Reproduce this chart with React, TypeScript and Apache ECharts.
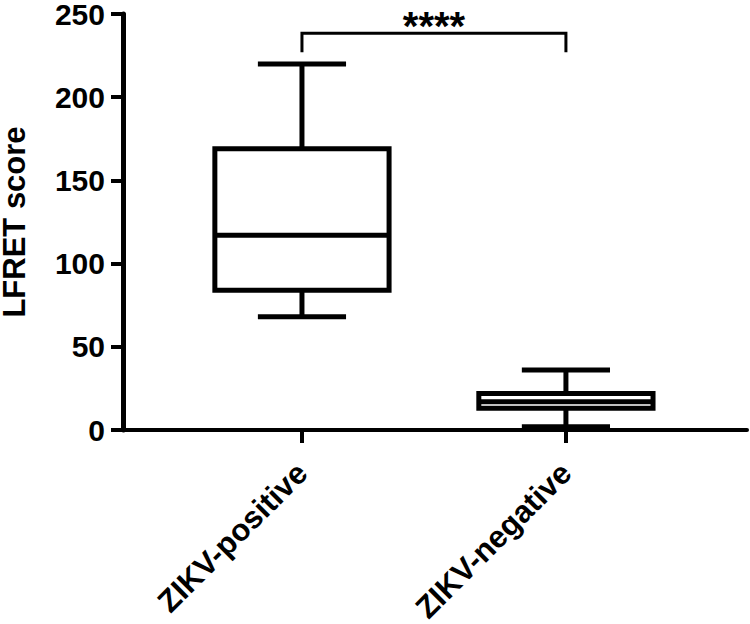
import React, { useEffect, useRef } from 'react';
import * as echarts from 'echarts';

const categories = ['ZIKV-positive', 'ZIKV-negative'];
const groupX = [1, 2];
const mins = [68, 2];
const q1s = [84, 13];
const medians = [117, 17];
const q3s = [169, 22];
const maxs = [220, 36];
const yTicks = [0, 50, 100, 150, 200, 250];
const significance = '****';
const bracketTop = 238.5;
const bracketLegBottom = 227;
const starsY = 242.5;

const FONT = 'Arial, "Liberation Sans", Helvetica, sans-serif';

export default function App() {
  const ref = useRef<HTMLDivElement>(null);
  useEffect(() => {
    if (!ref.current) return;
    const chart = echarts.init(ref.current, null, { renderer: 'svg' });
    const boxData = groupX.map((x, i) => [x, mins[i], q1s[i], medians[i], q3s[i], maxs[i]]);
    const option: any = {
      animation: false,
      backgroundColor: '#fff',
      grid: { left: 123, right: 3, top: 14, bottom: 194, containLabel: false, outerBoundsMode: 'none' },
      xAxis: {
        type: 'value',
        min: 0.322,
        max: 2.686,
        splitLine: { show: false },
        axisLine: { onZero: false, lineStyle: { color: '#000', width: 4 } },
        axisTick: { show: true, customValues: groupX, length: 13, lineStyle: { color: '#000', width: 4 } },
        axisLabel: {
          customValues: groupX,
          formatter: (v: number) => categories[groupX.indexOf(Math.round(v))] ?? '',
          rotate: 45,
          margin: 38,
          color: '#000',
          fontSize: 31,
          fontWeight: 'bold',
          fontFamily: FONT,
        },
      },
      yAxis: {
        type: 'value',
        min: yTicks[0],
        max: yTicks[yTicks.length - 1],
        interval: 50,
        name: 'LFRET score',
        nameLocation: 'middle',
        nameGap: 95,
        nameTextStyle: { color: '#000', fontSize: 31, lineHeight: 28, fontWeight: 'bold', fontFamily: FONT },
        splitLine: { show: false },
        axisLine: { show: true, lineStyle: { color: '#000', width: 5 } },
        axisTick: { show: true, length: 12, lineStyle: { color: '#000', width: 4 } },
        axisLabel: { margin: 18, color: '#000', fontSize: 30, lineHeight: 26, fontWeight: 'bold', fontFamily: FONT },
      },
      series: [
        {
          type: 'custom',
          data: boxData,
          renderItem: (params: any, api: any) => {
            const x = api.value(0);
            const pMin = api.coord([x, api.value(1)]);
            const pQ1 = api.coord([x, api.value(2)]);
            const pMed = api.coord([x, api.value(3)]);
            const pQ3 = api.coord([x, api.value(4)]);
            const pMax = api.coord([x, api.value(5)]);
            const halfBox = api.size([0.33, 0])[0];
            const halfCap = api.size([0.167, 0])[0];
            const cx = pMed[0];
            const st = { stroke: '#000', lineWidth: 5, fill: 'none' };
            return {
              type: 'group',
              children: [
                { type: 'line', shape: { x1: cx, y1: pQ3[1], x2: cx, y2: pMax[1] }, style: st },
                { type: 'line', shape: { x1: cx, y1: pQ1[1], x2: cx, y2: pMin[1] }, style: st },
                { type: 'line', shape: { x1: cx - halfCap, y1: pMax[1], x2: cx + halfCap, y2: pMax[1] }, style: st },
                { type: 'line', shape: { x1: cx - halfCap, y1: pMin[1], x2: cx + halfCap, y2: pMin[1] }, style: st },
                {
                  type: 'rect',
                  shape: { x: cx - halfBox, y: pQ3[1], width: 2 * halfBox, height: pQ1[1] - pQ3[1] },
                  style: { stroke: '#000', lineWidth: 5, fill: '#fff' },
                },
                { type: 'line', shape: { x1: cx - halfBox, y1: pMed[1], x2: cx + halfBox, y2: pMed[1] }, style: st },
              ],
            };
          },
        },
        {
          type: 'custom',
          data: [[groupX[0], groupX[1], bracketTop, bracketLegBottom, starsY]],
          renderItem: (params: any, api: any) => {
            const a = api.value(0);
            const b = api.value(1);
            const top = api.value(2);
            const leg = api.value(3);
            const p1 = api.coord([a, leg]);
            const p2 = api.coord([a, top]);
            const p3 = api.coord([b, top]);
            const p4 = api.coord([b, leg]);
            const ps = api.coord([(a + b) / 2, api.value(4)]);
            return {
              type: 'group',
              children: [
                {
                  type: 'polyline',
                  shape: { points: [p1, p2, p3, p4] },
                  style: { stroke: '#000', lineWidth: 3, fill: 'none' },
                },
                {
                  type: 'text',
                  x: ps[0],
                  y: ps[1],
                  style: {
                    text: significance,
                    align: 'center',
                    verticalAlign: 'middle',
                    fill: '#000',
                    fontSize: 40,
                    fontWeight: 'bold',
                    fontFamily: FONT,
                  },
                },
              ],
            };
          },
        },
      ],
    };
    chart.setOption(option);
    return () => chart.dispose();
  }, []);
  return <div ref={ref} style={{ position: 'fixed', left: 0, top: 0, width: 750, height: 624, background: '#fff' }} />;
}
